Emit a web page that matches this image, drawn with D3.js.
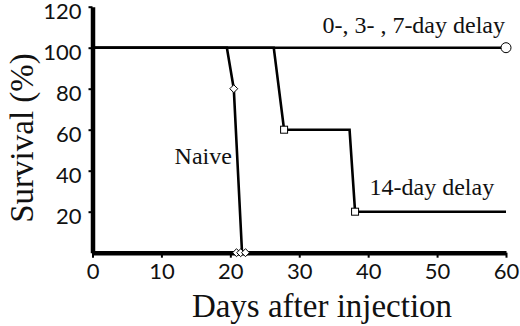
<!DOCTYPE html>
<html>
<head>
<meta charset="utf-8">
<script src="https://cdn.jsdelivr.net/npm/d3@7"></script>
<style>
  html, body { margin: 0; padding: 0; background: #fff; }
  .tick-label { font-family: Lato, "Open Sans", sans-serif; font-size: 22px; fill: #111; }
  .serif { font-family: "Liberation Serif", "Times New Roman", serif; fill: #111; }
</style>
</head>
<body>
<div id="chart"></div>
<script>
// Survival curves (days, percent)
const delayDays = [0, 60];
const delayValues = [100, 100];

const naiveDays = [0, 19.5, 20.5, 21.7];
const naiveValues = [100, 100, 80, 0];
const naiveMarkerDays = [20.5, 20.9, 21.5, 22.2];
const naiveMarkerValues = [80, 0, 0, 0];

const lateDays = [0, 26.3, 27.8, 37.3, 38.1, 60];
const lateValues = [100, 100, 60, 60, 20, 20];
const lateMarkerDays = [27.8, 38.1];
const lateMarkerValues = [60, 20];

const xTicks = [0, 10, 20, 30, 40, 50, 60];
const yTicks = [20, 40, 60, 80, 100, 120];

const width = 520;
const height = 326;
const margin = { top: 6.7, right: 14, bottom: 73.3, left: 92.5 };

const svg = d3.select("#chart")
  .append("svg")
  .attr("width", width)
  .attr("height", height);

const x = d3.scaleLinear().domain([0, 60]).range([margin.left, width - margin.right]);
const y = d3.scaleLinear().domain([0, 120]).range([height - margin.bottom, margin.top]);

// axes
const xAxis = svg.append("g")
  .attr("transform", `translate(0,${y(0)})`)
  .call(d3.axisBottom(x).tickValues(xTicks).tickSize(5).tickPadding(8).tickSizeOuter(0));
xAxis.select(".domain").attr("stroke", "#000").attr("stroke-width", 4.5);
xAxis.selectAll(".tick line").attr("stroke", "#000").attr("stroke-width", 2);
xAxis.selectAll(".tick text").attr("class", "tick-label").attr("dy", "0.62em");

const yAxis = svg.append("g")
  .attr("transform", `translate(${x(0)},0)`)
  .call(d3.axisLeft(y).tickValues(yTicks).tickSize(4).tickPadding(7).tickSizeOuter(0));
yAxis.select(".domain").attr("stroke", "#000").attr("stroke-width", 4.5);
yAxis.selectAll(".tick line").attr("stroke", "#000").attr("stroke-width", 2);
yAxis.selectAll(".tick text").attr("class", "tick-label").attr("dy", "0.55em");

// lines
const line = d3.line().x((d) => x(d[0])).y((d) => y(d[1]));
const series = [
  d3.zip(delayDays, delayValues),
  d3.zip(naiveDays, naiveValues),
  d3.zip(lateDays, lateValues)
];
svg.selectAll(".curve")
  .data(series)
  .enter()
  .append("path")
  .attr("class", "curve")
  .attr("d", line)
  .attr("fill", "none")
  .attr("stroke", "#000")
  .attr("stroke-width", 2.6)
  .attr("stroke-linejoin", "miter");

// markers
svg.append("circle")
  .attr("cx", x(delayDays[1]))
  .attr("cy", y(delayValues[1]))
  .attr("r", 5)
  .attr("fill", "#fff")
  .attr("stroke", "#000")
  .attr("stroke-width", 1);

svg.selectAll(".diamond")
  .data(d3.zip(naiveMarkerDays, naiveMarkerValues))
  .enter()
  .append("path")
  .attr("class", "diamond")
  .attr("d", d3.symbol(d3.symbolDiamond2, 40))
  .attr("transform", (d) => `translate(${x(d[0])},${y(d[1])})`)
  .attr("fill", "#fff")
  .attr("stroke", "#000")
  .attr("stroke-width", 1);

svg.selectAll(".square")
  .data(d3.zip(lateMarkerDays, lateMarkerValues))
  .enter()
  .append("rect")
  .attr("class", "square")
  .attr("x", (d) => x(d[0]) - 3.5)
  .attr("y", (d) => y(d[1]) - 3.5)
  .attr("width", 7)
  .attr("height", 7)
  .attr("fill", "#fff")
  .attr("stroke", "#000")
  .attr("stroke-width", 1);

// annotations
svg.append("text")
  .attr("class", "serif")
  .attr("x", x(60) - 1)
  .attr("y", y(100) - 15)
  .attr("text-anchor", "end")
  .style("font-size", "24px")
  .text("0-, 3- , 7-day delay");

svg.append("text")
  .attr("class", "serif")
  .attr("x", x(19.5) + 5)
  .attr("y", y(43.5))
  .attr("text-anchor", "end")
  .style("font-size", "24px")
  .text("Naive");

svg.append("text")
  .attr("class", "serif")
  .attr("x", x(40.2))
  .attr("y", y(28))
  .style("font-size", "24px")
  .text("14-day delay");

// axis titles
svg.append("text")
  .attr("class", "serif")
  .attr("x", 322)
  .attr("y", 317)
  .attr("text-anchor", "middle")
  .style("font-size", "33px")
  .text("Days after injection");

svg.append("text")
  .attr("class", "serif")
  .attr("transform", "translate(33,138) rotate(-90)")
  .attr("text-anchor", "middle")
  .style("font-size", "33px")
  .text("Survival (%)");
</script>
</body>
</html>
